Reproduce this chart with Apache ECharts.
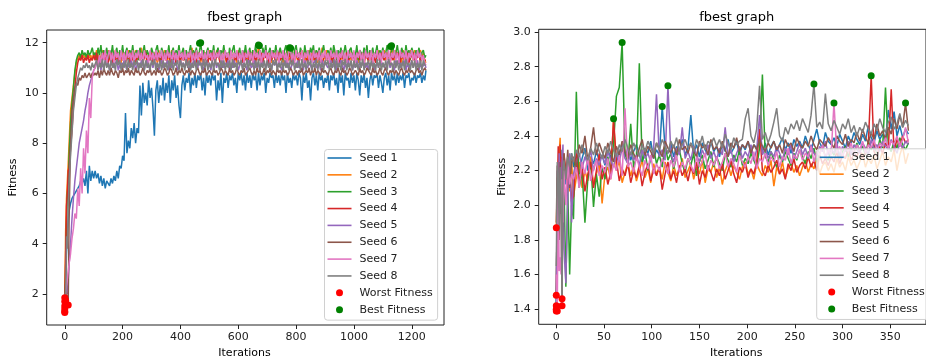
<!DOCTYPE html>
<html><head><meta charset="utf-8">
<script src="https://cdn.jsdelivr.net/npm/echarts@6/dist/echarts.min.js"></script>
<style>html,body{margin:0;padding:0;background:#fff}#c{width:926px;height:359px}</style>
</head><body><div id="c"></div>
<script>
const seedNames = ['Seed 1','Seed 2','Seed 3','Seed 4','Seed 5','Seed 6','Seed 7','Seed 8'];
const seedColors = ['#1f77b4','#ff7f0e','#2ca02c','#d62728','#9467bd','#8c564b','#e377c2','#7f7f7f'];

// ---------- Left panel ----------
const LX = [0,3,6,9,12,15,20,25,30,35,40,45,50,55,60,65,70,75,80,85,90,95,100,
105,110,115,120,125,130,135,140,145,150,
155,160,165,170,175,180,185,190,195,200,
205,210,215,220,225,230,235,240,245,250,
255,260,265,270,275,280,285,290,295,300,
305,310,315,320,325,330,335,340,345,350,
355,360,365,370,375,380,385,390,395,400,
405,410,415,420,425,430,435,440,445,450,
455,460,465,470,475,480,485,490,495,500,
505,510,515,520,525,530,535,540,545,550,
555,560,565,570,575,580,585,590,595,600,
605,610,615,620,625,630,635,640,645,650,
655,660,665,670,675,680,685,690,695,700,
705,710,715,720,725,730,735,740,745,750,
755,760,765,770,775,780,785,790,795,800,
805,810,815,820,825,830,835,840,845,850,
855,860,865,870,875,880,885,890,895,900,
905,910,915,920,925,930,935,940,945,950,
955,960,965,970,975,980,985,990,995,1000,
1005,1010,1015,1020,1025,1030,1035,1040,1045,1050,
1055,1060,1065,1070,1075,1080,1085,1090,1095,1100,
1105,1110,1115,1120,1125,1130,1135,1140,1145,1150,
1155,1160,1165,1170,1175,1180,1185,1190,1195,1200,
1205,1210,1215,1220,1225,1230,1235,1240,1245,1249];

const L1 = [1.40,2.5,3.6,4.4,4.9,5.3,5.6,5.8,5.9,6.0,6.1,6.2,6.3,6.5,6.4,6.6,6.3,6.9,6.0,7.1,6.5,6.9,6.6,
6.9,6.6,6.8,6.4,6.7,6.3,6.6,6.2,6.5,6.4,
6.3,6.6,6.4,6.7,6.5,6.9,6.6,7.1,7.0,7.5,
7.3,9.2,7.6,8.1,7.8,8.6,8.2,8.8,8.0,8.6,
8.4,10.3,9.1,10.4,9.6,10.0,9.5,10.5,9.8,10.2,
9.4,8.3,10.1,10.5,9.6,10.3,9.9,10.6,9.7,10.4,
10.0,10.7,9.6,10.5,10.1,10.7,9.8,10.3,9.5,9.0,
10.3,10.7,10.1,10.6,10.4,10.8,10.0,10.6,10.3,10.8,
10.2,10.7,10.5,10.8,10.1,10.6,9.9,10.8,10.4,10.7,
10.3,10.8,10.5,10.7,9.7,10.5,10.1,10.8,9.6,10.6,
10.4,10.8,10.2,10.7,10.5,10.8,10.3,10.6,10.0,10.8,
10.5,10.8,10.3,10.7,10.1,10.8,10.4,10.7,10.2,10.8,
10.5,10.7,10.1,10.8,10.3,10.7,10.5,10.8,10.0,10.6,
10.4,10.8,10.6,10.7,10.2,10.8,10.4,10.7,10.3,10.8,
10.5,10.7,10.0,10.8,10.4,10.6,10.2,10.8,10.5,10.7,
10.3,10.8,10.6,9.7,10.7,10.4,10.8,10.2,10.5,9.7,
10.6,10.8,10.3,10.7,10.1,10.8,10.5,10.7,10.2,10.6,
10.4,10.8,10.1,10.7,10.5,10.8,10.3,10.6,10.0,10.8,
10.4,10.7,9.9,10.8,10.5,10.6,10.2,10.8,10.4,10.7,
10.1,10.8,10.5,9.9,10.7,10.4,10.8,10.2,10.6,9.8,
10.5,10.8,10.3,10.7,10.6,10.8,10.2,10.7,10.4,10.0,
10.6,10.8,10.3,10.7,10.1,10.8,10.5,10.7,10.3,10.8,
10.4,10.7,10.5,10.8,10.2,10.7,10.6,10.8,10.3,10.6,
10.5,10.8,10.4,10.7,10.6,10.8,10.4,10.7,10.5,10.9];
const L2 = [1.85,4.5,5.8,6.5,7.2,8.0,9.3,9.8,10.3,10.8,11.2,11.4,11.5,11.3,11.6,11.4,11.5,11.3,11.6,11.4,11.5,11.3,11.6,
11.4,11.7,11.3,11.6,11.2,11.7,11.4,11.6,11.3,11.7,
11.5,11.2,11.6,11.4,11.7,11.3,11.6,11.5,11.2,11.7,
11.4,11.6,11.3,11.7,11.5,11.2,11.6,11.4,11.7,11.3,
11.6,11.4,11.8,11.3,11.5,11.7,11.2,11.6,11.4,11.7,
11.3,11.6,11.5,11.2,11.7,11.4,11.6,11.3,11.7,11.5,
11.2,11.6,11.4,11.7,11.3,11.5,11.6,11.2,11.7,11.4,
11.6,11.3,11.7,11.5,11.2,11.6,11.4,11.8,11.3,11.5,
11.7,11.4,11.6,11.2,11.5,11.7,11.3,11.6,11.4,11.7,
11.3,11.5,11.6,11.2,11.7,11.4,11.6,11.3,11.5,11.7,
11.4,11.2,11.6,11.5,11.7,11.3,11.6,11.4,11.2,11.7,
11.5,11.3,11.6,11.4,11.7,11.2,11.5,11.6,11.3,11.7,
11.4,11.6,11.3,11.9,11.5,11.2,11.6,11.4,11.7,11.3,
11.6,11.5,11.2,11.7,11.4,11.6,11.3,11.5,11.7,11.4,
11.2,11.6,11.5,11.7,11.3,11.4,11.6,11.2,11.7,11.5,
11.3,11.6,11.4,11.7,11.5,11.2,11.6,11.3,11.7,11.4,
11.6,11.3,11.5,11.7,11.2,11.6,11.4,11.8,11.3,11.5,
11.7,11.4,11.6,11.3,11.5,11.7,11.2,11.6,11.4,11.5,
11.3,11.7,11.5,11.2,11.6,11.4,11.7,11.3,11.6,11.5,
11.4,11.6,11.2,11.7,11.5,11.3,11.6,11.4,11.7,11.2,
11.5,11.7,11.3,11.6,11.4,11.5,11.7,11.2,11.6,11.4,
11.7,11.3,11.6,11.5,11.4,11.85,11.6,11.3,11.7,11.5,
11.4,11.6,11.2,11.7,11.5,11.3,11.6,11.4,11.7,11.6,
11.3,11.7,11.5,11.4,11.6,11.7,11.4,11.6,11.3,11.2];
const L3 = [1.30,3.0,4.8,6.0,6.4,7.5,8.8,9.6,10.2,10.9,11.3,11.5,11.6,11.4,11.7,11.5,11.6,11.4,11.7,11.5,11.6,11.8,11.5,
11.6,11.3,11.8,11.5,11.9,11.4,11.7,11.5,11.8,11.3,
11.7,11.5,11.9,11.4,11.6,11.8,11.3,11.7,11.5,11.9,
11.4,11.6,11.8,11.3,11.7,11.5,11.9,11.4,11.6,11.7,
11.3,11.8,11.5,11.6,11.9,11.4,11.7,11.5,11.3,11.8,
11.6,11.4,11.7,11.9,11.5,11.3,11.8,11.6,11.4,11.7,
11.5,11.9,11.3,11.6,11.8,11.4,11.7,11.5,11.9,11.4,
11.6,11.8,11.3,11.7,11.5,11.6,11.9,11.4,11.7,11.5,
11.8,11.4,11.6,12.0,11.5,11.7,11.3,11.6,11.8,11.4,
11.7,11.5,11.9,11.3,11.6,11.8,11.4,11.7,11.5,11.9,
11.4,11.6,11.3,11.8,11.5,11.7,11.9,11.4,11.6,11.5,
11.8,11.3,11.7,11.5,11.9,11.4,11.6,11.8,11.3,11.7,
11.5,11.9,11.4,11.6,11.7,11.3,11.8,11.5,11.9,11.4,
11.6,11.8,11.3,11.7,11.5,11.9,11.4,11.6,11.8,11.5,
11.3,11.7,11.9,11.4,11.6,11.5,11.8,11.3,11.7,11.9,
11.5,11.4,11.8,11.6,11.3,11.9,11.5,11.7,11.4,11.8,
11.6,11.9,11.3,11.7,11.5,11.8,11.4,11.6,11.9,11.5,
11.3,11.7,11.5,11.8,11.4,11.9,11.6,11.3,11.7,11.5,
11.8,11.4,11.6,11.9,11.5,11.3,11.7,11.8,11.4,11.6,
11.5,11.9,11.3,11.7,11.6,11.4,11.8,11.5,11.9,11.3,
11.7,11.5,11.8,11.4,11.6,11.9,11.3,11.7,11.5,11.8,
11.4,11.6,11.9,11.5,11.3,11.7,11.8,11.4,11.6,11.9,
11.5,11.3,11.8,11.6,11.4,11.9,11.5,11.7,11.3,11.8,
11.6,11.4,11.7,11.5,11.8,11.3,11.6,11.7,11.4,11.5];
const L4 = [1.26,3.5,5.5,6.0,6.9,7.0,7.8,8.5,9.5,10.2,10.8,11.2,11.4,11.3,11.5,11.2,11.4,11.3,11.5,11.2,11.4,11.3,11.5,
11.3,11.6,11.2,11.5,11.1,11.4,11.6,11.3,11.5,11.2,
11.4,11.6,11.1,11.5,11.3,11.6,11.2,11.4,11.5,11.3,
11.6,11.2,11.4,11.5,11.1,11.6,11.3,11.5,11.2,11.4,
11.5,11.3,11.6,11.2,11.4,11.6,11.1,11.5,11.3,11.6,
11.2,11.5,11.3,11.6,11.4,11.1,11.5,11.2,11.6,11.3,
11.4,11.6,11.2,11.5,11.3,11.6,11.1,11.4,11.5,11.2,
11.6,11.3,11.5,11.1,11.4,11.6,11.2,11.5,11.3,11.6,
11.2,11.4,11.6,11.3,11.5,11.1,11.6,11.4,11.2,11.5,
11.3,11.6,11.4,11.2,11.5,11.6,11.3,11.1,11.5,11.4,
11.6,11.2,11.5,11.3,11.6,11.4,11.1,11.5,11.3,11.6,
11.4,11.5,11.2,11.6,11.3,11.5,11.4,11.1,11.6,11.3,
11.5,11.2,11.6,11.4,11.3,11.6,11.2,11.5,11.4,11.6,
11.1,11.5,11.3,11.6,11.4,11.2,11.5,11.6,11.3,11.4,
11.6,11.3,11.5,11.2,11.6,11.4,11.1,11.5,11.3,11.6,
11.4,11.2,11.6,11.5,11.3,11.6,11.4,11.2,11.5,11.3,
11.5,11.6,11.2,11.4,11.6,11.3,11.5,11.1,11.4,11.6,
11.3,11.5,11.4,11.6,11.2,11.5,11.3,11.6,11.4,11.1,
11.6,11.4,11.3,11.5,11.6,11.2,11.4,11.5,11.3,11.6,
11.2,11.5,11.6,11.3,11.4,11.6,11.1,11.5,11.4,11.3,
11.6,11.3,11.5,11.4,11.2,11.6,11.5,11.3,11.6,11.4,
11.3,11.6,11.4,11.5,11.1,11.6,11.3,11.5,11.4,11.6,
11.5,11.2,11.6,11.4,11.3,11.5,11.6,11.2,11.4,11.5,
11.6,11.3,11.5,11.4,11.6,11.2,11.5,11.4,11.3,11.3];
const L5 = [1.70,1.8,2.2,2.0,2.6,3.2,4.0,5.0,5.8,6.5,7.0,7.5,8.0,8.3,8.6,8.9,9.3,9.6,10.0,10.3,10.5,10.7,10.9,
11.0,11.2,11.1,11.3,10.9,11.2,11.0,11.3,11.1,11.2,
10.9,11.3,11.1,11.0,11.2,11.3,10.9,11.1,11.2,11.0,
11.3,11.1,10.9,11.2,11.0,11.3,11.1,11.2,10.9,11.1,
11.2,11.0,11.3,11.1,10.9,11.2,11.3,11.0,11.1,11.2,
11.0,11.3,11.1,11.2,10.9,11.1,11.3,11.0,11.2,11.1,
11.3,10.9,11.2,11.0,11.3,11.1,11.2,10.9,11.1,11.3,
11.1,11.2,11.0,11.3,11.1,10.9,11.2,11.0,11.3,11.1,
11.2,11.0,11.3,11.1,11.2,10.9,11.1,11.3,11.0,11.2,
10.9,11.2,11.1,11.3,11.0,11.2,11.1,10.9,11.3,11.0,
11.2,11.1,11.3,10.9,11.2,11.0,11.3,11.1,11.2,10.9,
11.1,11.3,11.0,11.2,11.1,10.9,11.3,11.2,11.0,11.1,
11.3,11.0,11.2,11.1,10.9,11.3,11.1,11.2,11.0,11.3,
11.0,11.2,10.9,11.3,11.1,11.2,11.0,11.3,11.1,10.9,
11.2,11.1,11.3,11.0,11.2,10.9,11.1,11.3,11.2,11.0,
11.3,11.0,11.1,11.2,10.9,11.3,11.1,11.0,11.2,11.1,
10.9,11.2,11.3,11.0,11.1,11.2,10.9,11.3,11.1,11.2,
11.1,11.0,11.2,11.3,11.0,11.1,11.3,10.9,11.2,11.1,
11.3,11.1,10.9,11.2,11.0,11.3,11.1,11.2,10.9,11.2,
11.0,11.3,11.1,11.0,11.2,11.1,11.3,11.0,11.2,10.9,
11.2,11.1,11.3,10.9,11.1,11.2,11.0,11.3,11.1,11.2,
11.1,10.9,11.2,11.3,11.0,11.2,11.1,10.9,11.3,11.1,
11.3,11.0,11.2,11.1,11.3,10.9,11.2,11.0,11.1,11.3,
11.0,11.2,11.1,11.3,10.9,11.2,11.0,11.1,11.2,11.0];
const L6 = [1.9,2.4,2.0,1.8,1.56,5.0,8.0,9.3,9.8,10.2,10.4,10.3,10.6,10.5,10.7,10.6,10.8,10.6,10.7,10.8,10.6,10.8,10.7,
10.8,10.7,10.9,10.6,10.9,10.7,11.0,10.8,10.7,10.9,
10.7,11.0,10.8,10.7,10.9,10.8,10.6,10.9,10.8,11.0,
10.7,10.9,10.8,11.0,10.7,10.9,10.8,10.7,11.0,10.8,
10.9,10.7,10.8,11.0,10.8,10.7,10.9,10.8,11.0,10.7,
10.8,10.9,10.7,11.0,10.8,10.9,10.7,10.8,11.0,10.9,
10.7,10.8,11.0,10.9,10.7,10.8,11.0,10.7,10.9,10.8,
11.0,10.8,10.7,10.9,10.8,11.0,10.7,10.9,10.8,10.7,
10.9,11.0,10.8,10.7,10.9,10.8,11.0,10.7,10.8,10.9,
10.8,10.7,11.0,10.8,10.9,10.7,10.8,11.0,10.9,10.7,
10.9,10.8,10.7,11.0,10.8,10.9,10.7,10.8,11.0,10.8,
10.7,10.9,10.8,11.0,10.7,10.8,10.9,11.0,10.8,10.7,
10.9,10.7,11.0,10.8,10.9,10.7,10.8,11.0,10.7,10.9,
10.8,11.0,10.7,10.9,10.8,10.7,11.0,10.8,10.9,10.7,
11.0,10.8,10.9,10.7,10.8,11.0,10.9,10.7,10.8,10.9,
10.7,10.9,10.8,11.0,10.7,10.8,10.9,10.8,11.0,10.7,
10.9,10.8,11.0,10.7,10.9,10.8,10.7,11.0,10.8,10.9,
10.8,10.7,10.9,11.0,10.8,10.7,10.9,10.8,11.0,10.8,
10.7,11.0,10.8,10.9,10.7,10.8,11.0,10.9,10.7,10.8,
10.9,10.8,10.7,11.0,10.8,10.9,10.7,10.8,11.0,10.9,
10.8,10.7,11.0,10.8,10.9,10.7,10.8,11.0,10.8,10.7,
10.9,11.0,10.8,10.7,10.9,10.8,11.0,10.7,10.9,10.8,
10.7,10.9,11.0,10.8,10.7,10.9,10.8,11.0,10.8,10.9,
10.8,10.7,10.9,11.0,10.8,10.9,10.7,10.9,11.0,10.9];
const L7 = [1.52,2.0,2.4,2.6,2.9,3.2,3.6,4.2,4.6,5.2,5.0,6.2,5.5,7.0,6.0,7.8,6.8,8.5,7.6,9.8,9.0,10.6,10.9,
11.0,11.3,11.1,11.5,11.2,11.6,11.3,11.7,11.2,11.5,
11.7,11.3,11.6,11.2,11.7,11.4,11.6,11.2,11.7,11.3,
11.6,11.2,11.7,11.4,11.6,11.3,11.7,11.2,11.6,11.4,
11.7,11.3,11.6,11.2,11.7,11.4,11.5,11.2,11.7,11.3,
11.6,11.2,11.7,11.3,11.6,11.4,11.7,11.2,11.6,11.3,
11.7,11.4,11.6,11.2,11.7,11.3,11.6,11.2,11.7,11.4,
11.6,11.3,11.7,11.2,11.6,11.4,11.7,11.3,11.6,11.2,
11.7,11.3,11.6,11.4,11.7,11.2,11.6,11.3,11.7,11.4,
11.6,11.2,11.7,11.3,11.6,11.4,11.7,11.2,11.6,11.3,
11.7,11.4,11.6,11.2,11.7,11.3,11.6,11.4,11.7,11.2,
11.6,11.3,11.7,11.2,11.6,11.4,11.7,11.3,11.6,11.2,
11.7,11.4,11.6,11.3,11.7,11.2,11.6,11.4,11.7,11.3,
11.6,11.2,11.7,11.4,11.6,11.3,11.7,11.2,11.6,11.4,
11.7,11.3,11.6,11.2,11.7,11.8,11.3,11.6,11.2,11.7,
11.4,11.6,11.3,11.7,11.2,11.6,11.4,11.7,11.3,11.6,
11.2,11.7,11.4,11.6,11.3,11.7,11.2,11.6,11.4,11.7,
11.3,11.6,11.2,11.7,11.4,11.6,11.3,11.7,11.2,11.6,
11.4,11.7,11.3,11.6,11.2,11.7,11.4,11.6,11.3,11.7,
11.2,11.6,11.4,11.7,11.3,11.6,11.2,11.7,11.4,11.6,
11.3,11.7,11.2,11.6,11.4,11.7,11.3,11.6,11.2,11.7,
11.4,11.6,11.3,11.7,11.2,11.6,11.4,11.7,11.3,11.6,
11.2,11.7,11.4,11.6,11.3,11.7,11.2,11.6,11.4,11.7,
11.3,11.6,11.2,11.7,11.4,11.6,11.3,11.5,11.2,11.1];
const L8 = [2.0,1.75,4.3,3.8,5.5,6.5,7.5,8.4,9.3,9.8,10.3,10.6,10.8,11.0,10.9,11.1,11.0,11.2,11.0,11.1,10.9,11.2,11.0,
11.0,11.3,10.9,11.2,11.0,11.35,10.9,11.3,11.0,11.2,
10.9,11.3,11.0,11.2,10.9,11.35,11.1,11.3,10.9,11.2,
11.0,11.3,10.9,11.35,11.0,11.2,10.9,11.3,11.1,11.3,
10.9,11.2,11.0,11.35,10.9,11.3,11.0,11.2,10.9,11.3,
11.1,11.35,10.9,11.2,11.0,11.3,10.9,11.3,11.0,11.2,
10.9,11.3,11.0,11.35,10.9,11.2,11.1,11.3,10.9,11.3,
11.0,11.2,10.9,11.35,11.0,11.3,10.9,11.2,11.0,11.3,
10.9,11.3,11.1,11.2,10.9,11.35,11.0,11.3,10.9,11.2,
11.0,11.3,10.9,11.35,11.1,11.2,10.9,11.3,11.0,11.3,
10.9,11.2,11.0,11.3,10.9,11.35,11.0,11.2,10.9,11.3,
11.1,11.3,10.9,11.2,11.0,11.35,10.9,11.3,11.1,11.2,
10.9,11.3,11.0,11.35,10.9,11.2,11.0,11.3,10.9,11.3,
11.0,11.2,10.9,11.3,11.1,11.35,10.9,11.2,11.0,11.3,
10.9,11.3,11.0,11.2,10.9,11.35,11.1,11.3,10.9,11.2,
11.0,11.3,10.9,11.35,11.0,11.2,10.9,11.3,11.1,11.3,
10.9,11.2,11.0,11.35,10.9,11.3,11.0,11.2,10.9,11.3,
11.1,11.3,10.9,11.2,11.0,11.35,10.9,11.3,11.0,11.2,
10.9,11.3,11.1,11.35,10.9,11.2,11.0,11.3,10.9,11.3,
11.0,11.2,10.9,11.3,11.0,11.35,10.9,11.2,11.1,11.3,
10.9,11.3,11.0,11.2,10.9,11.35,11.0,11.3,10.9,11.2,
11.0,11.3,10.9,11.35,11.1,11.2,10.9,11.3,11.0,11.3,
10.9,11.2,11.0,11.3,10.9,11.35,11.1,11.2,10.9,11.3,
11.0,11.3,10.9,11.2,11.0,11.3,10.9,11.3,11.1,11.1];
const leftWorst = [[0,1.40],[0,1.85],[0,1.30],[0,1.26],[0,1.70],[12,1.56],[0,1.52],[3,1.75]];
const leftBest = [[466,11.98],[470,12.0],[670,11.91],[673,11.88],[778,11.8],[781,11.78],[1127,11.85],[1130,11.88]];
const leftXTicks = [0,200,400,600,800,1000,1200];
const leftYTicks = [2,4,6,8,10,12];

// ---------- Right panel ----------
const RX = [0,1,2,3,4,5,6,7,8,10,12,14,16,
18,21,24,27,30,33,36,39,42,45,48,51,54,57,60,63,66,69,72,75,78,81,84,87,90,93,96,99,
102,105,108,111,114,117,120,123,126,129,132,135,138,141,144,147,150,153,156,159,162,165,168,171,174,177,180,183,186,189,192,195,198,
201,204,207,210,213,216,219,222,225,228,231,234,237,240,243,246,249,252,255,258,261,264,267,270,273,276,279,282,285,288,291,294,297,300,
303,306,309,312,315,318,321,324,327,330,333,336,339,342,345,348,351,354,357,360,363,366,369];

const R1 = [1.40,2.10,2.22,2.05,2.28,2.15,2.32,2.18,2.25,2.12,2.28,2.20,2.30,
2.22,2.30,2.18,2.27,2.33,2.20,2.28,2.24,2.31,2.26,
2.29,2.23,2.32,2.27,2.35,2.25,2.30,2.36,2.28,2.33,
2.26,2.31,2.35,2.29,2.24,2.33,2.30,2.37,2.27,2.32,
2.29,2.57,2.33,2.30,2.36,2.28,2.34,2.31,2.38,2.29,
2.33,2.52,2.30,2.35,2.28,2.36,2.32,2.29,2.37,2.31,
2.34,2.28,2.36,2.31,2.38,2.30,2.33,2.37,2.29,2.35,
2.32,2.37,2.30,2.35,2.33,2.38,2.31,2.36,2.29,2.34,
2.37,2.31,2.35,2.39,2.32,2.36,2.30,2.38,2.34,2.37,
2.33,2.40,2.35,2.31,2.38,2.44,2.36,2.33,2.42,2.37,
2.35,2.39,2.34,2.41,2.37,2.33,2.40,2.36,2.42,2.38,
2.35,2.41,2.37,2.46,2.39,2.36,2.43,2.38,2.41,2.37,
2.55,2.44,2.54,2.40,2.46,2.39,2.44,2.41];
const R2 = [1.87,2.12,2.20,2.30,2.39,2.18,2.25,2.10,2.28,2.15,2.22,2.08,2.26,
2.05,2.16,2.25,2.10,2.20,2.14,2.28,2.12,2.18,2.24,
2.01,2.18,2.22,2.15,2.50,2.20,2.26,2.13,2.19,2.24,
2.17,2.23,2.14,2.20,2.26,2.16,2.21,2.13,2.24,2.18,
2.22,2.15,2.25,2.19,2.14,2.23,2.17,2.21,2.27,2.16,
2.20,2.24,2.15,2.22,2.18,2.26,2.13,2.21,2.19,2.25,
2.16,2.22,2.12,2.20,2.24,2.17,2.23,2.19,2.15,2.22,
2.25,2.18,2.21,2.15,2.24,2.20,2.17,2.23,2.19,2.26,
2.11,2.22,2.18,2.25,2.16,2.21,2.24,2.19,2.23,2.17,
2.22,2.26,2.19,2.24,2.21,2.27,2.18,2.23,2.25,2.20,
2.24,2.19,2.27,2.22,2.25,2.20,2.28,2.23,2.26,2.21,
2.25,2.30,2.22,2.27,2.24,2.29,2.21,2.26,2.31,2.23,
2.28,2.25,2.32,2.20,2.29,2.34,2.24,2.30];
const R3 = [1.39,2.16,1.70,2.20,1.95,2.25,2.05,1.85,2.15,1.53,2.10,1.60,2.00,
1.92,2.655,2.10,2.20,1.90,2.15,2.25,1.99,2.18,2.05,
2.22,2.15,2.28,2.20,2.35,2.63,2.68,2.94,2.30,2.24,
2.47,2.22,2.28,2.82,2.25,2.31,2.20,2.27,2.33,2.24,
2.29,2.22,2.35,2.26,2.30,2.21,2.28,2.32,2.24,2.19,
2.27,2.23,2.30,2.17,2.25,2.29,2.21,2.26,2.31,2.22,
2.28,2.24,2.20,2.30,2.26,2.22,2.29,2.25,2.32,2.23,
2.27,2.24,2.30,2.26,2.22,2.33,2.755,2.28,2.25,2.31,
2.26,2.22,2.29,2.25,2.31,2.27,2.23,2.30,2.26,2.32,
2.28,2.24,2.31,2.27,2.33,2.25,2.30,2.34,2.28,2.26,
2.32,2.29,2.35,2.27,2.31,2.34,2.28,2.33,2.30,2.36,
2.31,2.34,2.29,2.37,2.32,2.35,2.30,2.38,2.33,2.68,
2.34,2.31,2.37,2.33,2.39,2.35,2.32,2.36];
const R4 = [1.48,2.05,2.34,1.95,2.35,2.15,2.28,2.05,2.30,2.20,2.10,2.25,2.02,
2.05,2.30,2.12,2.22,2.08,2.18,2.25,2.10,2.20,2.30,
2.15,2.22,2.12,2.19,2.49,2.26,2.14,2.21,2.17,2.24,
2.13,2.20,2.16,2.23,2.11,2.19,2.24,2.14,2.21,2.17,
2.22,2.09,2.18,2.25,2.15,2.20,2.13,2.23,2.17,2.21,
2.14,2.22,2.18,2.25,2.12,2.20,2.16,2.23,2.19,2.14,
2.21,2.17,2.24,2.15,2.20,2.26,2.18,2.13,2.22,2.19,
2.24,2.16,2.21,2.18,2.25,2.44,2.20,2.17,2.23,2.19,
2.22,2.26,2.18,2.21,2.15,2.24,2.20,2.27,2.19,2.23,
2.25,2.21,2.28,2.22,2.26,2.20,2.29,2.24,2.27,2.23,
2.28,2.25,2.31,2.24,2.29,2.27,2.33,2.26,2.30,2.28,
2.32,2.27,2.30,2.35,2.748,2.31,2.28,2.34,2.30,2.36,
2.33,2.67,2.31,2.38,2.34,2.40,2.36,2.38];
const R5 = [1.42,2.20,1.80,2.30,2.10,1.95,2.25,2.35,1.75,1.55,2.05,2.30,1.90,
2.18,2.25,2.30,2.21,2.28,2.24,2.32,2.20,2.27,2.23,
2.29,2.24,2.31,2.26,2.22,2.30,2.25,2.33,2.27,2.24,
2.31,2.26,2.29,2.23,2.32,2.27,2.30,2.25,2.33,2.64,
2.28,2.32,2.26,2.69,2.30,2.25,2.33,2.29,2.45,2.27,
2.31,2.26,2.34,2.29,2.25,2.32,2.28,2.35,2.27,2.31,
2.26,2.33,2.29,2.45,2.28,2.32,2.25,2.30,2.34,2.27,
2.31,2.28,2.35,2.26,2.32,2.52,2.29,2.33,2.27,2.31,
2.28,2.34,2.30,2.26,2.33,2.29,2.35,2.27,2.31,2.36,
2.29,2.33,2.27,2.35,2.30,2.28,2.34,2.31,2.37,2.29,
2.33,2.30,2.36,2.28,2.34,2.31,2.37,2.29,2.35,2.32,
2.30,2.36,2.33,2.29,2.38,2.32,2.35,2.31,2.37,2.34,
2.32,2.38,2.34,2.30,2.36,2.33,2.37,2.35];
const R6 = [1.90,2.23,2.10,1.80,2.25,2.05,1.46,2.20,2.30,2.15,2.32,2.10,2.25,
2.28,2.22,2.35,2.30,2.40,2.26,2.33,2.45,2.29,2.36,
2.31,2.27,2.36,2.30,2.25,2.34,2.29,2.37,2.31,2.27,
2.35,2.30,2.26,2.33,2.38,2.29,2.34,2.31,2.27,2.36,
2.32,2.28,2.37,2.33,2.30,2.35,2.29,2.38,2.32,2.34,
2.30,2.36,2.31,2.28,2.37,2.33,2.35,2.29,2.38,2.32,
2.34,2.30,2.37,2.32,2.28,2.36,2.33,2.39,2.31,2.35,
2.33,2.37,2.30,2.35,2.32,2.38,2.34,2.31,2.36,2.33,
2.37,2.32,2.35,2.30,2.38,2.34,2.36,2.31,2.39,2.35,
2.33,2.37,2.34,2.40,2.35,2.32,2.38,2.36,2.34,2.39,
2.36,2.33,2.40,2.37,2.35,2.41,2.34,2.38,2.36,2.42,
2.37,2.44,2.39,2.36,2.42,2.38,2.47,2.40,2.43,2.38,
2.45,2.41,2.50,2.44,2.52,2.45,2.59,2.43];
const R7 = [1.60,1.39,2.10,1.62,1.70,1.60,2.15,1.90,2.20,2.00,2.25,2.12,2.18,
2.15,2.22,2.10,2.25,2.18,2.28,2.14,2.21,2.26,2.17,
2.23,2.19,2.27,2.15,2.24,2.20,2.29,2.17,2.56,2.22,
2.25,2.19,2.28,2.22,2.17,2.26,2.21,2.29,2.18,2.24,
2.20,2.27,2.23,2.18,2.26,2.22,2.29,2.19,2.25,2.21,
2.27,2.23,2.19,2.28,2.22,2.25,2.30,2.20,2.26,2.23,
2.28,2.21,2.25,2.30,2.22,2.27,2.24,2.19,2.29,2.25,
2.22,2.28,2.24,2.31,2.21,2.27,2.25,2.30,2.23,2.28,
2.25,2.31,2.22,2.28,2.26,2.33,2.24,2.29,2.27,2.32,
2.26,2.30,2.28,2.34,2.25,2.31,2.29,2.35,2.27,2.32,
2.29,2.59,2.30,2.34,2.28,2.33,2.31,2.36,2.29,2.35,
2.32,2.37,2.30,2.35,2.33,2.38,2.31,2.36,2.34,2.39,
2.33,2.37,2.35,2.40,2.34,2.38,2.45,2.36];
const R8 = [1.65,2.25,2.18,1.85,2.22,2.05,1.42,2.20,2.26,2.15,2.28,2.22,2.30,
2.25,2.32,2.28,2.35,2.30,2.26,2.33,2.29,2.36,2.31,
2.27,2.34,2.30,2.37,2.32,2.28,2.35,2.31,2.38,2.33,
2.29,2.36,2.32,2.28,2.35,2.31,2.37,2.33,2.30,2.36,
2.32,2.38,2.34,2.30,2.37,2.33,2.39,2.31,2.35,2.38,
2.33,2.36,2.31,2.38,2.34,2.40,2.32,2.37,2.35,2.39,
2.34,2.38,2.33,2.41,2.36,2.32,2.39,2.35,2.37,2.38,
2.50,2.56,2.40,2.36,2.44,2.69,2.38,2.42,2.36,2.41,
2.48,2.56,2.40,2.37,2.45,2.41,2.47,2.44,2.49,2.43,
2.50,2.46,2.42,2.52,2.70,2.45,2.48,2.44,2.645,2.47,
2.43,2.49,2.45,2.41,2.47,2.44,2.50,2.42,2.46,2.40,
2.45,2.42,2.48,2.44,2.41,2.47,2.43,2.50,2.45,2.42,
2.48,2.51,2.44,2.47,2.53,2.45,2.49,2.46];
const rightWorst = [[0,1.40],[0,1.87],[0,1.39],[0,1.48],[0,1.42],[6,1.46],[1,1.39],[6,1.42]];
const rightBest = [[111,2.57],[60,2.50],[69,2.94],[330,2.748],[117,2.69],[366,2.59],[291,2.59],[270,2.70]];
const rightXTicks = [0,50,100,150,200,250,300,350];
const rightYTicks = [1.4,1.6,1.8,2.0,2.2,2.4,2.6,2.8,3.0];

const leftSeries = [L1,L2,L3,L4,L5,L6,L7,L8];
const rightSeries = [R1,R2,R3,R4,R5,R6,R7,R8];

const FONT = 'DejaVu Sans';
const pairs = (xs, ys) => xs.map((x, i) => [x, ys[i]]);

const series = [];
[[leftSeries, LX, 0], [rightSeries, RX, 1]].forEach(([arr, xs, gi]) => {
  arr.forEach((ys, k) => {
    series.push({
      type: 'line', name: seedNames[k], xAxisIndex: gi, yAxisIndex: gi,
      data: pairs(xs, ys), symbol: 'none', showSymbol: false,
      lineStyle: { width: 1.5, color: seedColors[k] }, itemStyle: { color: seedColors[k] },
      silent: true, emphasis: { disabled: true }, animation: false
    });
  });
});
[[leftWorst, leftBest, 0], [rightWorst, rightBest, 1]].forEach(([w, b, gi]) => {
  series.push({ type: 'scatter', name: 'Worst Fitness', xAxisIndex: gi, yAxisIndex: gi, data: w,
    symbol: 'circle', symbolSize: 7, itemStyle: { color: '#ff0000', opacity: 1 }, silent: true, z: 3 });
  series.push({ type: 'scatter', name: 'Best Fitness', xAxisIndex: gi, yAxisIndex: gi, data: b,
    symbol: 'circle', symbolSize: 7, itemStyle: { color: '#008000', opacity: 1 }, silent: true, z: 3 });
});

function xAxisCfg(gi, min, max, ticks) {
  return {
    type: 'value', gridIndex: gi, min: min, max: max,
    axisLine: { show: false, onZero: false },
    axisTick: { show: true, inside: false, length: 4, customValues: ticks, lineStyle: { color: '#222', width: 1 } },
    axisLabel: { customValues: ticks, margin: 7, fontFamily: FONT, fontSize: 11, color: '#222', formatter: v => String(v) },
    splitLine: { show: false }
  };
}
function yAxisCfg(gi, min, max, ticks, gap, fmt) {
  return {
    type: 'value', gridIndex: gi, min: min, max: max,
    name: 'Fitness', nameLocation: 'middle', nameGap: gap,
    nameTextStyle: { fontFamily: FONT, fontSize: 11, color: '#000' },
    axisLine: { show: false, onZero: false },
    axisTick: { show: true, inside: false, length: 4, customValues: ticks, lineStyle: { color: '#222', width: 1 } },
    axisLabel: { customValues: ticks, margin: 8, fontFamily: FONT, fontSize: 11, color: '#222', formatter: fmt },
    splitLine: { show: false }
  };
}

const LINE_ICON = 'path://M0,0L24,0L24,1.6L0,1.6Z';
function legendCfg(left, top) {
  const data = seedNames.map((n, k) => ({ name: n, icon: LINE_ICON, itemStyle: { color: seedColors[k], borderWidth: 0 } }))
    .concat([
      { name: 'Worst Fitness', icon: 'circle', itemStyle: { color: '#ff0000', borderWidth: 0 } },
      { name: 'Best Fitness', icon: 'circle', itemStyle: { color: '#008000', borderWidth: 0 } }
    ]);
  return {
    orient: 'vertical', left: left, top: top, selectedMode: false,
    itemWidth: 24, itemHeight: 7, itemGap: 3.85,
    padding: [2, 5, 4, 3],
    backgroundColor: 'rgba(255,255,255,0.8)', borderColor: '#d0d0d0', borderWidth: 1, borderRadius: 3,
    textStyle: { fontFamily: FONT, fontSize: 11, color: '#222', lineHeight: 13, padding: [0, 0, 0, 3] },
    data: data,
    z: 10
  };
}

const txt = (x, y, s, size) => ({ type: 'text', x: x, y: y, silent: true,
  style: { text: s, align: 'center', verticalAlign: 'middle', fontFamily: FONT, fontSize: size, fill: '#000' } });

const chart = echarts.init(document.getElementById('c'), null, { renderer: 'canvas' });
chart.setOption({
  animation: false,
  backgroundColor: '#fff',
  grid: [
    { left: 46.7, top: 30, width: 397.3, height: 295, show: true, borderColor: '#222', borderWidth: 1, backgroundColor: 'transparent' },
    { left: 538.7, top: 29.3, width: 395.3, height: 295, show: true, borderColor: '#222', borderWidth: 1, backgroundColor: 'transparent' }
  ],
  xAxis: [
    xAxisCfg(0, -62.45, 1311.45, leftXTicks),
    xAxisCfg(1, -18.45, 387.45, rightXTicks)
  ],
  yAxis: [
    yAxisCfg(0, 0.766, 12.505, leftYTicks, 28, v => String(v)),
    yAxisCfg(1, 1.313, 3.0156, rightYTicks, 31, v => Number(v).toFixed(1))
  ],
  legend: [legendCfg(324.5, 149.5), legendCfg(816.7, 148.8)],
  graphic: [
    txt(244.7, 17.5, 'fbest graph', 13),
    txt(736.7, 17.5, 'fbest graph', 13),
    txt(244.5, 353, 'Iterations', 11),
    txt(736.2, 353, 'Iterations', 11)
  ],
  series: series
});
</script>
</body></html>
